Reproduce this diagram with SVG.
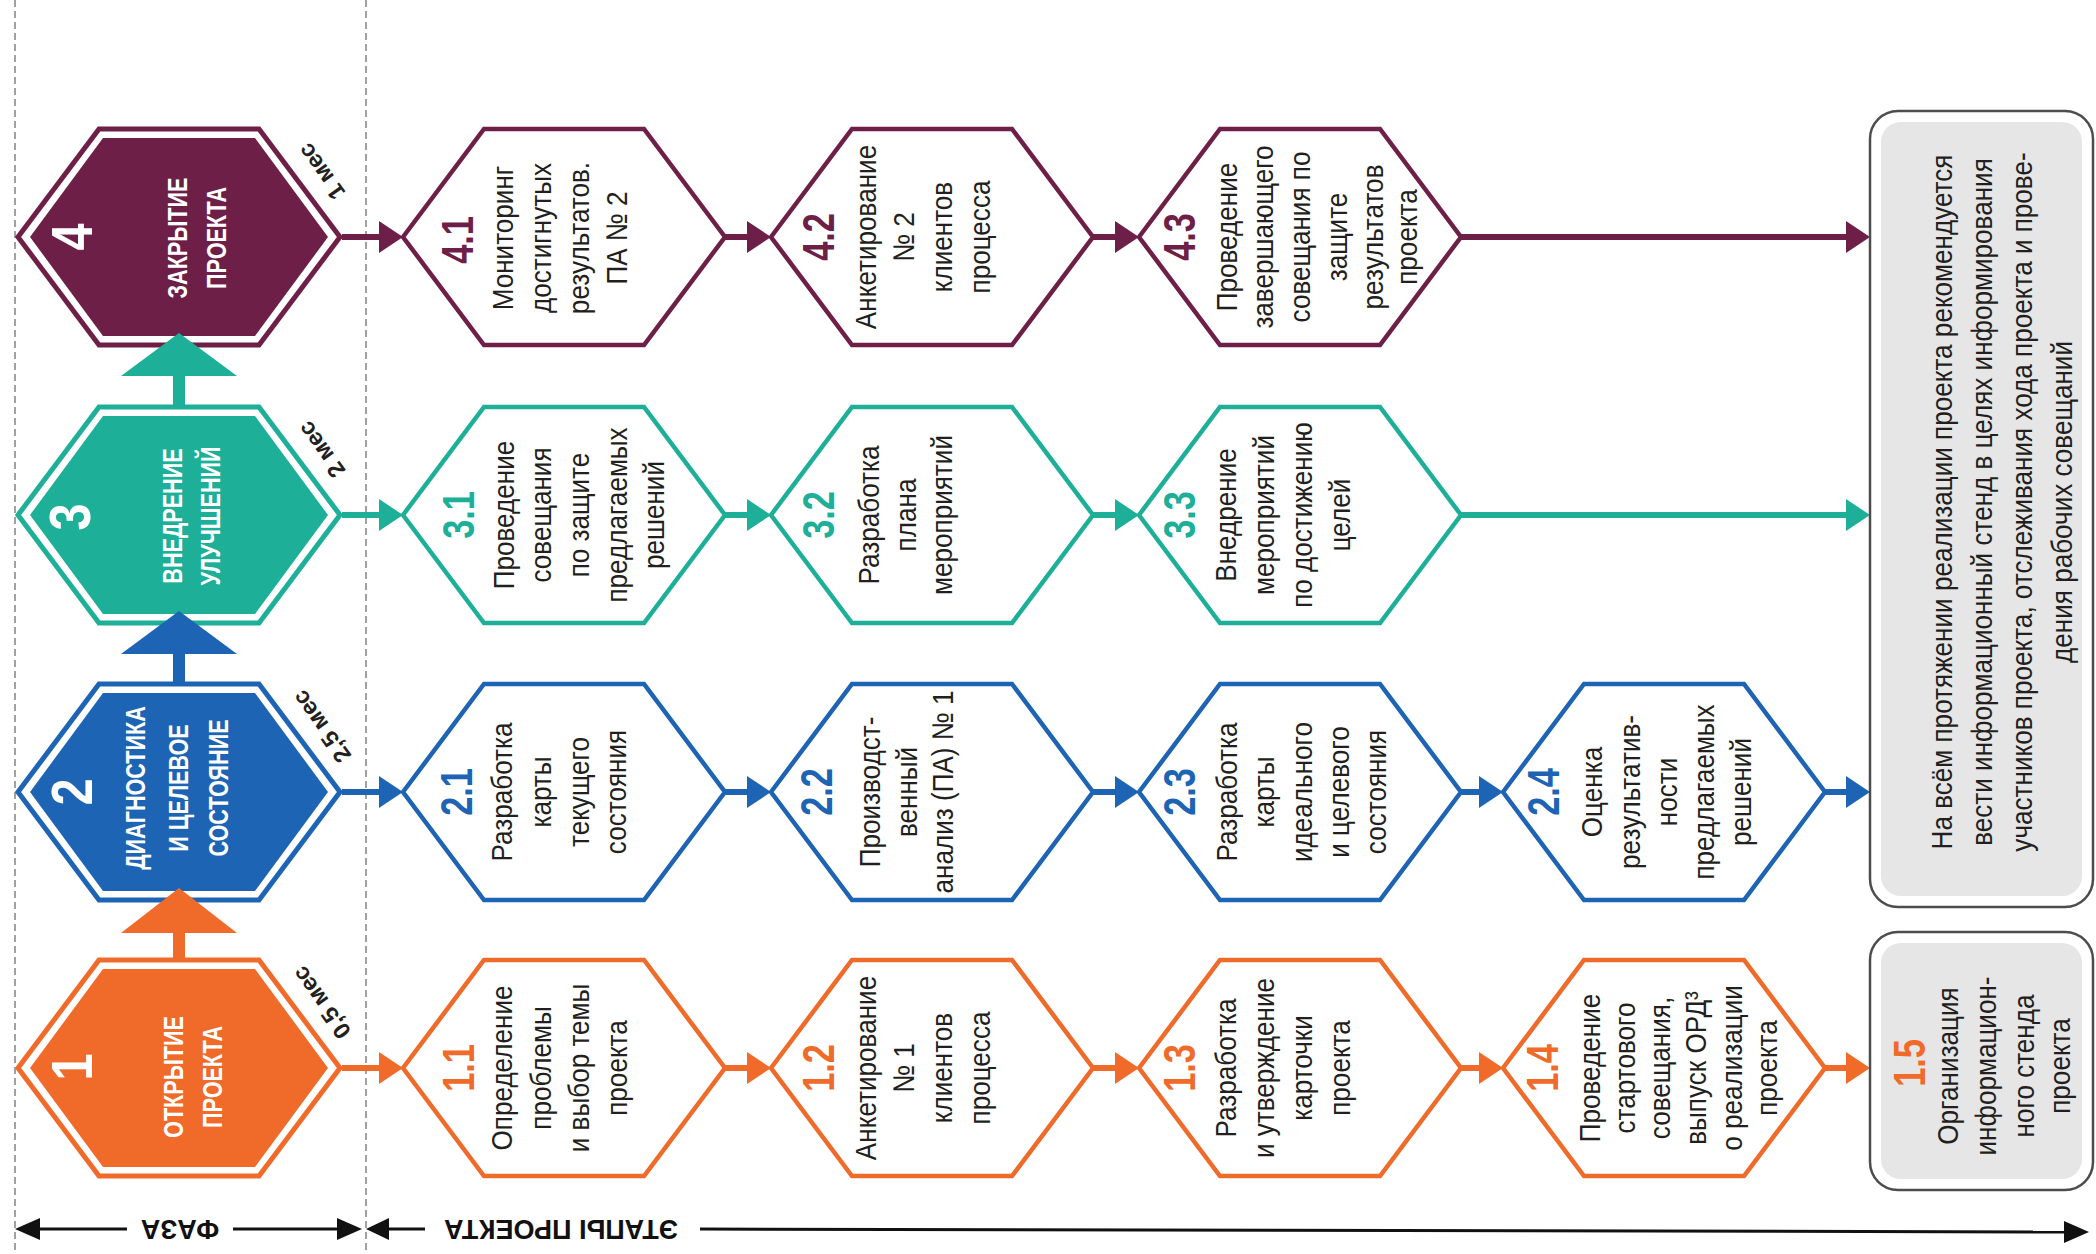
<svg xmlns="http://www.w3.org/2000/svg" width="2096" height="1254" viewBox="0 0 2096 1254">
<style>
text{font-family:"Liberation Sans",Arial,sans-serif;text-anchor:middle}
.st{font-size:30px;fill:#231f20}
.num{font-size:44px;font-weight:bold}
.ph{font-size:27px;font-weight:bold;fill:#fff}
.phn{font-size:58px;font-weight:bold;fill:#fff}
.mes{font-size:23.5px;font-weight:bold;fill:#231f20}
.ax{font-size:27px;font-weight:bold;fill:#111}
.o{stroke:#F06A2A}.b{stroke:#1E64B4}.t{stroke:#1DAF97}.p{stroke:#6D1F47}
.fo{fill:#F06A2A}.fb{fill:#1E64B4}.ft{fill:#1DAF97}.fp{fill:#6D1F47}
.step{fill:#fff;stroke-width:4.5}
.pho{fill:#fff;stroke-width:5}
.con{stroke-width:6;fill:none}
.dash{stroke:#8a8a8a;stroke-width:1.6;stroke-dasharray:7 4;fill:none}
.axl{stroke:#111;stroke-width:3;fill:none}
.bo{fill:#fff;stroke:#4d4d4d;stroke-width:2.5}
.bi{fill:#e6e6e6}
</style>
<defs>
<polygon id="hx" points="-161,0 -80,-108 80,-108 161,0 80,108 -80,108"/>
<polygon id="hxi" points="-149,0 -76,-99 76,-99 149,0 76,99 -76,99"/>
<marker id="ao" markerUnits="userSpaceOnUse" markerWidth="24" markerHeight="32" refX="14" refY="16" orient="auto"><path d="M0,0 L24,16 L0,32 z" fill="#F06A2A"/></marker>
<marker id="ab" markerUnits="userSpaceOnUse" markerWidth="24" markerHeight="32" refX="14" refY="16" orient="auto"><path d="M0,0 L24,16 L0,32 z" fill="#1E64B4"/></marker>
<marker id="at" markerUnits="userSpaceOnUse" markerWidth="24" markerHeight="32" refX="14" refY="16" orient="auto"><path d="M0,0 L24,16 L0,32 z" fill="#1DAF97"/></marker>
<marker id="ap" markerUnits="userSpaceOnUse" markerWidth="24" markerHeight="32" refX="14" refY="16" orient="auto"><path d="M0,0 L24,16 L0,32 z" fill="#6D1F47"/></marker>
</defs>
<rect width="2096" height="1254" fill="#fff"/>

<g id="frame">
<line x1="15" y1="0" x2="15" y2="1254" class="dash"/>
<line x1="366" y1="0" x2="366" y2="1254" class="dash"/>
<line x1="38" y1="1229" x2="127" y2="1229" class="axl"/>
<line x1="233" y1="1229" x2="340" y2="1229" class="axl"/>
<polygon points="15,1229 40,1218 40,1240" fill="#111"/>
<polygon points="362,1229 337,1218 337,1240" fill="#111"/>
<text class="ax" transform="translate(180,1220) rotate(180)">ФАЗА</text>
<polygon points="366,1229 389,1218 389,1240" fill="#111"/>
<line x1="387" y1="1229" x2="425" y2="1229" class="axl"/>
<text class="ax" transform="translate(561,1220) rotate(180)">ЭТАПЫ ПРОЕКТА</text>
<line x1="700" y1="1229" x2="2066" y2="1232" class="axl"/>
<polygon points="2089,1232 2064,1221 2064,1243" fill="#111"/>
</g>

<g id="connectors">
<line x1="342" y1="237" x2="393" y2="237" class="con p" marker-end="url(#ap)"/>
<line x1="725" y1="237" x2="761" y2="237" class="con p" marker-end="url(#ap)"/>
<line x1="1093" y1="237" x2="1129" y2="237" class="con p" marker-end="url(#ap)"/>
<line x1="1461" y1="237" x2="1860" y2="237" class="con p" marker-end="url(#ap)"/>
<line x1="342" y1="515" x2="393" y2="515" class="con t" marker-end="url(#at)"/>
<line x1="725" y1="515" x2="761" y2="515" class="con t" marker-end="url(#at)"/>
<line x1="1093" y1="515" x2="1129" y2="515" class="con t" marker-end="url(#at)"/>
<line x1="1461" y1="515" x2="1860" y2="515" class="con t" marker-end="url(#at)"/>
<line x1="342" y1="792" x2="393" y2="792" class="con b" marker-end="url(#ab)"/>
<line x1="725" y1="792" x2="761" y2="792" class="con b" marker-end="url(#ab)"/>
<line x1="1093" y1="792" x2="1129" y2="792" class="con b" marker-end="url(#ab)"/>
<line x1="1461" y1="792" x2="1493" y2="792" class="con b" marker-end="url(#ab)"/>
<line x1="1825" y1="792" x2="1860" y2="792" class="con b" marker-end="url(#ab)"/>
<line x1="342" y1="1068" x2="393" y2="1068" class="con o" marker-end="url(#ao)"/>
<line x1="725" y1="1068" x2="761" y2="1068" class="con o" marker-end="url(#ao)"/>
<line x1="1093" y1="1068" x2="1129" y2="1068" class="con o" marker-end="url(#ao)"/>
<line x1="1461" y1="1068" x2="1493" y2="1068" class="con o" marker-end="url(#ao)"/>
<line x1="1825" y1="1068" x2="1860" y2="1068" class="con o" marker-end="url(#ao)"/>
</g>

<g id="phase4">
<use href="#hx" x="179" y="237" class="pho p"/><use href="#hxi" x="179" y="237" class="fp"/>
<text class="phn" transform="translate(0,237) rotate(-90) scale(.84,1)" x="0" y="92">4</text>
<text class="ph" transform="translate(0,238) rotate(-90) scale(.8,1)"><tspan x="0" y="187">ЗАКРЫТИЕ</tspan><tspan x="0" y="226">ПРОЕКТА</tspan></text>
<text class="mes" transform="translate(328,167) rotate(-125.5)">1 мес</text>
</g>
<g id="phase3">
<use href="#hx" x="179" y="515" class="pho t"/><use href="#hxi" x="179" y="515" class="ft"/>
<text class="phn" transform="translate(0,517) rotate(-90) scale(.84,1)" x="0" y="90">3</text>
<text class="ph" transform="translate(0,516) rotate(-90) scale(.8,1)"><tspan x="0" y="182">ВНЕДРЕНИЕ</tspan><tspan x="0" y="220">УЛУЧШЕНИЙ</tspan></text>
<text class="mes" transform="translate(328,445) rotate(-125.5)">2 мес</text>
</g>
<g id="phase2">
<use href="#hx" x="179" y="792" class="pho b"/><use href="#hxi" x="179" y="792" class="fb"/>
<text class="phn" transform="translate(0,792) rotate(-90) scale(.84,1)" x="0" y="92">2</text>
<text class="ph" transform="translate(0,788) rotate(-90) scale(.8,1)"><tspan x="0" y="145">ДИАГНОСТИКА</tspan><tspan x="0" y="188">И ЦЕЛЕВОЕ</tspan><tspan x="0" y="228">СОСТОЯНИЕ</tspan></text>
<text class="mes" transform="translate(328,722) rotate(-125.5)">2,5 мес</text>
</g>
<g id="phase1">
<use href="#hx" x="179" y="1068" class="pho o"/><use href="#hxi" x="179" y="1068" class="fo"/>
<text class="phn" transform="translate(0,1067) rotate(-90) scale(.84,1)" x="0" y="92">1</text>
<text class="ph" transform="translate(0,1077) rotate(-90) scale(.8,1)"><tspan x="0" y="183">ОТКРЫТИЕ</tspan><tspan x="0" y="222">ПРОЕКТА</tspan></text>
<text class="mes" transform="translate(328,998) rotate(-125.5)">0,5 мес</text>
</g>
<g id="arrows-phase">
<rect x="173" y="931" width="12" height="28" class="fo"/><polygon points="179,888 121,933 237,933" class="fo"/>
<rect x="173" y="652" width="12" height="33" class="fb"/><polygon points="179,611 121,654 237,654" class="fb"/>
<rect x="173" y="374" width="12" height="34" class="ft"/><polygon points="179,333 121,376 237,376" class="ft"/>
</g>

<g id="s41"><use href="#hx" x="564" y="237" class="step p"/>
<text class="num fp" transform="translate(0,240) rotate(-90) scale(.78,1)" x="0" y="473">4.1</text>
<text class="st" transform="translate(0,238) rotate(-90) scale(.87,1)"><tspan x="0" y="513">Мониторинг</tspan><tspan x="0" y="551">достигнутых</tspan><tspan x="0" y="589">результатов.</tspan><tspan x="0" y="627">ПА № 2</tspan></text></g>
<g id="s42"><use href="#hx" x="932" y="237" class="step p"/>
<text class="num fp" transform="translate(0,237) rotate(-90) scale(.78,1)" x="0" y="834">4.2</text>
<text class="st" transform="translate(0,237) rotate(-90) scale(.87,1)"><tspan x="0" y="876">Анкетирование</tspan><tspan x="0" y="914">№ 2</tspan><tspan x="0" y="952">клиентов</tspan><tspan x="0" y="990">процесса</tspan></text></g>
<g id="s43"><use href="#hx" x="1300" y="237" class="step p"/>
<text class="num fp" transform="translate(0,237) rotate(-90) scale(.78,1)" x="0" y="1195">4.3</text>
<text class="st" transform="translate(0,237) rotate(-90) scale(.87,1)"><tspan x="0" y="1237">Проведение</tspan><tspan x="0" y="1273">завершающего</tspan><tspan x="0" y="1310">совещания по</tspan><tspan x="0" y="1347">защите</tspan><tspan x="0" y="1383">результатов</tspan><tspan x="0" y="1417">проекта</tspan></text></g>

<g id="s31"><use href="#hx" x="564" y="515" class="step t"/>
<text class="num ft" transform="translate(0,515) rotate(-90) scale(.78,1)" x="0" y="474">3.1</text>
<text class="st" transform="translate(0,515) rotate(-90) scale(.87,1)"><tspan x="0" y="514">Проведение</tspan><tspan x="0" y="551">совещания</tspan><tspan x="0" y="589">по защите</tspan><tspan x="0" y="627">предлагаемых</tspan><tspan x="0" y="664">решений</tspan></text></g>
<g id="s32"><use href="#hx" x="932" y="515" class="step t"/>
<text class="num ft" transform="translate(0,515) rotate(-90) scale(.78,1)" x="0" y="834">3.2</text>
<text class="st" transform="translate(0,515) rotate(-90) scale(.87,1)"><tspan x="0" y="879">Разработка</tspan><tspan x="0" y="916">плана</tspan><tspan x="0" y="952">мероприятий</tspan></text></g>
<g id="s33"><use href="#hx" x="1300" y="515" class="step t"/>
<text class="num ft" transform="translate(0,515) rotate(-90) scale(.78,1)" x="0" y="1195">3.3</text>
<text class="st" transform="translate(0,515) rotate(-90) scale(.87,1)"><tspan x="0" y="1236">Внедрение</tspan><tspan x="0" y="1274">мероприятий</tspan><tspan x="0" y="1312">по достижению</tspan><tspan x="0" y="1350">целей</tspan></text></g>

<g id="s21"><use href="#hx" x="564" y="792" class="step b"/>
<text class="num fb" transform="translate(0,792) rotate(-90) scale(.78,1)" x="0" y="472">2.1</text>
<text class="st" transform="translate(0,792) rotate(-90) scale(.87,1)"><tspan x="0" y="512">Разработка</tspan><tspan x="0" y="551">карты</tspan><tspan x="0" y="589">текущего</tspan><tspan x="0" y="626">состояния</tspan></text></g>
<g id="s22"><use href="#hx" x="932" y="792" class="step b"/>
<text class="num fb" transform="translate(0,792) rotate(-90) scale(.78,1)" x="0" y="832">2.2</text>
<text class="st" transform="translate(0,792) rotate(-90) scale(.87,1)"><tspan x="0" y="880">Производст-</tspan><tspan x="0" y="917">венный</tspan><tspan x="0" y="953">анализ (ПА) № 1</tspan></text></g>
<g id="s23"><use href="#hx" x="1300" y="792" class="step b"/>
<text class="num fb" transform="translate(0,792) rotate(-90) scale(.78,1)" x="0" y="1195">2.3</text>
<text class="st" transform="translate(0,792) rotate(-90) scale(.87,1)"><tspan x="0" y="1237">Разработка</tspan><tspan x="0" y="1274">карты</tspan><tspan x="0" y="1312">идеального</tspan><tspan x="0" y="1349">и целевого</tspan><tspan x="0" y="1386">состояния</tspan></text></g>
<g id="s24"><use href="#hx" x="1664" y="792" class="step b"/>
<text class="num fb" transform="translate(0,792) rotate(-90) scale(.78,1)" x="0" y="1559">2.4</text>
<text class="st" transform="translate(0,792) rotate(-90) scale(.87,1)"><tspan x="0" y="1602">Оценка</tspan><tspan x="0" y="1640">результатив-</tspan><tspan x="0" y="1677">ности</tspan><tspan x="0" y="1714">предлагаемых</tspan><tspan x="0" y="1751">решений</tspan></text></g>

<g id="s11"><use href="#hx" x="564" y="1068" class="step o"/>
<text class="num fo" transform="translate(0,1068) rotate(-90) scale(.78,1)" x="0" y="474">1.1</text>
<text class="st" transform="translate(0,1068) rotate(-90) scale(.87,1)"><tspan x="0" y="512">Определение</tspan><tspan x="0" y="551">проблемы</tspan><tspan x="0" y="589">и выбор темы</tspan><tspan x="0" y="627">проекта</tspan></text></g>
<g id="s12"><use href="#hx" x="932" y="1068" class="step o"/>
<text class="num fo" transform="translate(0,1068) rotate(-90) scale(.78,1)" x="0" y="834">1.2</text>
<text class="st" transform="translate(0,1068) rotate(-90) scale(.87,1)"><tspan x="0" y="876">Анкетирование</tspan><tspan x="0" y="914">№ 1</tspan><tspan x="0" y="952">клиентов</tspan><tspan x="0" y="990">процесса</tspan></text></g>
<g id="s13"><use href="#hx" x="1300" y="1068" class="step o"/>
<text class="num fo" transform="translate(0,1068) rotate(-90) scale(.78,1)" x="0" y="1195">1.3</text>
<text class="st" transform="translate(0,1068) rotate(-90) scale(.87,1)"><tspan x="0" y="1236">Разработка</tspan><tspan x="0" y="1274">и утверждение</tspan><tspan x="0" y="1312">карточки</tspan><tspan x="0" y="1350">проекта</tspan></text></g>
<g id="s14"><use href="#hx" x="1664" y="1068" class="step o"/>
<text class="num fo" transform="translate(0,1068) rotate(-90) scale(.78,1)" x="0" y="1558">1.4</text>
<text class="st" transform="translate(0,1068) rotate(-90) scale(.87,1)"><tspan x="0" y="1600">Проведение</tspan><tspan x="0" y="1635">стартового</tspan><tspan x="0" y="1670">совещания,</tspan><tspan x="0" y="1706">выпуск ОРД³</tspan><tspan x="0" y="1742">о реализации</tspan><tspan x="0" y="1777">проекта</tspan></text></g>

<g id="s15"><rect x="1870" y="932" width="223" height="258" rx="28" class="bo"/><rect x="1881" y="943" width="201" height="236" rx="20" class="bi"/>
<text class="num fo" transform="translate(0,1063) rotate(-90) scale(.78,1)" x="0" y="1925">1.5</text>
<text class="st" transform="translate(0,1066) rotate(-90) scale(.87,1)"><tspan x="0" y="1958">Организация</tspan><tspan x="0" y="1996">информацион-</tspan><tspan x="0" y="2034">ного стенда</tspan><tspan x="0" y="2070">проекта</tspan></text></g>

<g id="info"><rect x="1870" y="111" width="223" height="796" rx="28" class="bo"/><rect x="1881" y="122" width="201" height="774" rx="20" class="bi"/>
<text class="st" transform="translate(0,502) rotate(-90) scale(.87,1)"><tspan x="0" y="1952">На всём протяжении реализации проекта рекомендуется</tspan><tspan x="0" y="1992">вести информационный стенд в целях информирования</tspan><tspan x="0" y="2032">участников проекта, отслеживания хода проекта и прове-</tspan><tspan x="0" y="2072">дения рабочих совещаний</tspan></text></g>
</svg>
